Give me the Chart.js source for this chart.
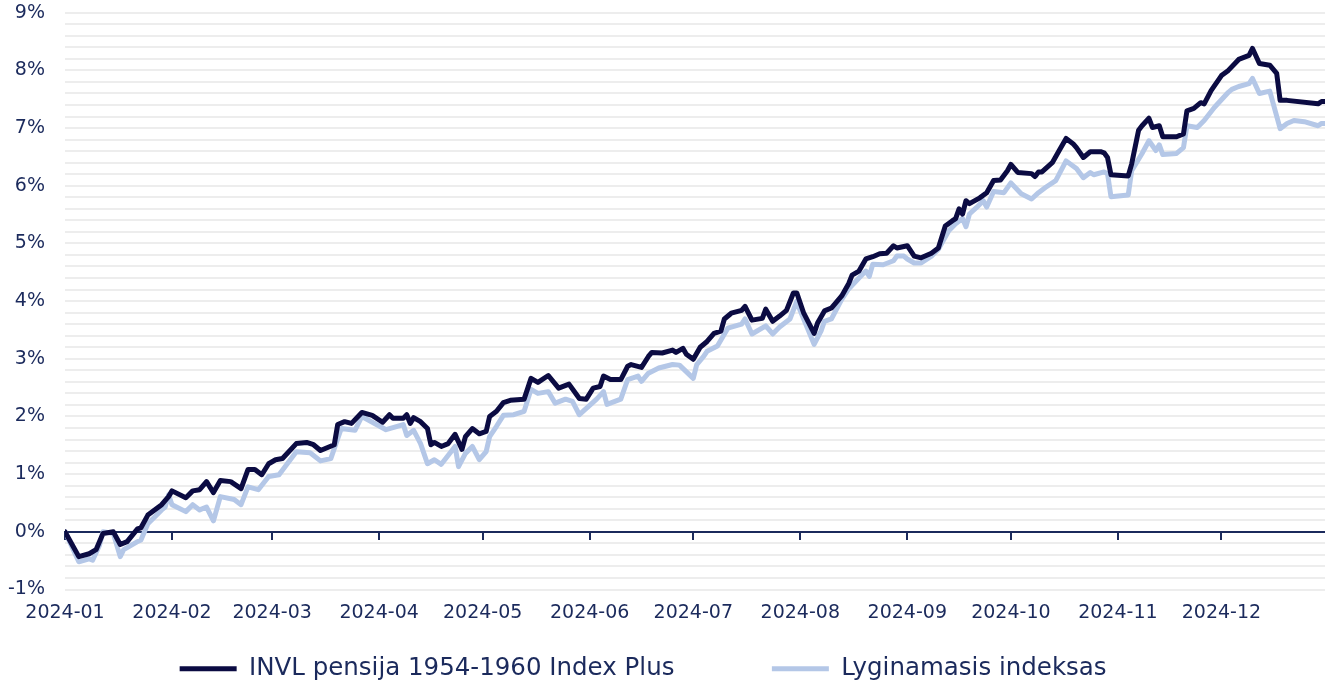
<!DOCTYPE html>
<html>
<head>
<meta charset="utf-8">
<script src="https://cdn.jsdelivr.net/npm/chart.js@4.4.1/dist/chart.umd.min.js"></script>
<style>
html,body{margin:0;padding:0;background:#fff;}
#wrap{width:1325px;height:685px;}
</style>
</head>
<body>
<div id="wrap"><canvas id="c" width="1325" height="685"></canvas></div>
<script>
// Month tick labels and their day offsets (days since 2024-01-01)
const monthLabels = ['2024-01','2024-02','2024-03','2024-04','2024-05','2024-06','2024-07','2024-08','2024-09','2024-10','2024-11','2024-12'];
const monthStartDays = [0,31,60,91,121,152,182,213,244,274,305,335];

const seriesNames = ['INVL pensija 1954-1960 Index Plus', 'Lyginamasis indeksas'];

// INVL pensija 1954-1960 Index Plus (cumulative return, %)
const fundDays = [
  0,4,7,9,11,14,16,18,21,22,24,28,30,
  31,35,37,39,41,43,45,48,51,53,55,57,59,
  61,63,67,70,72,74,78,79,81,83,86,89,
  92,94,95,98,99,100,101,103,105,106,107,109,111,113,115,116,118,120,
  122,123,125,127,129,133,135,137,140,143,146,149,151,
  153,155,156,158,161,163,164,167,169,170,173,176,177,179,180,
  182,184,186,188,190,191,193,196,197,199,202,203,205,207,209,211,212,
  214,217,218,220,222,225,227,228,230,232,234,236,238,240,241,
  244,246,248,251,253,255,257,258,259,260,261,262,265,267,269,271,273,
  274,276,280,281,282,283,286,288,290,292,293,295,297,300,301,302,303,
  308,309,311,312,314,315,317,318,322,324,325,327,329,330,332,
  335,337,340,343,344,346,349,351,352,354,363,364,365
];
const fundValues = [
  0.00,-0.43,-0.38,-0.31,-0.03,0.00,-0.22,-0.17,0.05,0.07,0.29,0.47,0.61,
  0.71,0.59,0.71,0.73,0.87,0.68,0.89,0.87,0.75,1.08,1.08,0.99,1.18,
  1.25,1.27,1.53,1.55,1.51,1.41,1.51,1.86,1.91,1.88,2.07,2.02,
  1.90,2.03,1.97,1.97,2.03,1.88,1.98,1.91,1.79,1.51,1.55,1.48,1.53,1.69,1.43,1.65,1.79,1.70,
  1.74,2.00,2.09,2.24,2.28,2.30,2.66,2.59,2.71,2.49,2.56,2.31,2.30,
  2.49,2.52,2.70,2.64,2.64,2.87,2.90,2.85,3.04,3.11,3.10,3.15,3.11,3.18,3.08,
  2.99,3.20,3.30,3.44,3.48,3.69,3.79,3.84,3.91,3.67,3.70,3.86,3.65,3.74,3.84,4.14,4.14,
  3.79,3.44,3.62,3.83,3.88,4.09,4.30,4.45,4.52,4.73,4.77,4.82,4.83,4.96,4.92,
  4.96,4.78,4.75,4.83,4.92,5.30,5.39,5.43,5.60,5.51,5.74,5.69,5.79,5.88,6.09,6.10,6.26,
  6.37,6.23,6.21,6.16,6.24,6.24,6.40,6.61,6.82,6.73,6.66,6.49,6.59,6.59,6.57,6.49,6.19,
  6.17,6.38,6.96,7.04,7.17,7.01,7.04,6.85,6.85,6.90,7.30,7.34,7.44,7.42,7.65,
  7.91,8.00,8.19,8.26,8.38,8.12,8.09,7.95,7.48,7.48,7.42,7.46,7.46
];

// Lyginamasis indeksas (benchmark, cumulative return, %)
const indexDays = [
  0,4,7,8,10,11,14,16,17,21,22,24,28,29,30,
  31,35,37,39,41,43,45,49,51,53,56,59,
  62,67,71,74,77,80,84,86,
  93,98,99,101,103,105,107,109,113,114,116,118,120,
  122,123,125,127,130,133,135,137,140,142,145,147,149,
  154,156,157,161,163,166,167,169,172,176,178,
  182,183,185,186,189,192,196,197,199,203,205,207,210,212,213,
  217,219,220,222,225,227,230,232,233,234,237,240,241,243,
  244,246,248,251,253,256,258,260,261,262,264,266,267,269,272,
  274,277,280,282,284,287,290,293,295,297,298,301,302,303,
  308,309,312,314,316,317,318,322,324,325,328,330,333,
  337,338,340,343,344,346,349,352,354,356,359,363,364,365
];
const indexValues = [
  0.00,-0.52,-0.47,-0.49,-0.23,0.00,-0.03,-0.43,-0.31,-0.17,-0.14,0.14,0.38,0.43,0.64,
  0.47,0.35,0.47,0.38,0.43,0.19,0.61,0.56,0.47,0.78,0.73,0.96,
  0.99,1.39,1.37,1.23,1.27,1.79,1.76,2.00,
  1.77,1.86,1.67,1.76,1.53,1.18,1.25,1.17,1.48,1.13,1.36,1.48,1.25,
  1.39,1.65,1.83,2.02,2.03,2.09,2.47,2.40,2.43,2.23,2.30,2.26,2.03,
  2.30,2.43,2.21,2.30,2.64,2.70,2.61,2.75,2.84,2.90,2.89,
  2.66,2.90,3.04,3.13,3.22,3.53,3.60,3.69,3.43,3.57,3.43,3.55,3.69,4.00,3.83,
  3.25,3.48,3.65,3.69,4.03,4.21,4.40,4.52,4.43,4.64,4.63,4.70,4.78,4.78,
  4.73,4.66,4.66,4.78,4.90,5.22,5.34,5.43,5.29,5.51,5.62,5.74,5.63,5.90,5.88,
  6.05,5.86,5.77,5.88,5.97,6.09,6.43,6.30,6.14,6.23,6.19,6.24,6.21,5.81,
  5.84,6.26,6.56,6.78,6.61,6.71,6.54,6.56,6.66,7.04,7.01,7.13,7.36,
  7.62,7.67,7.72,7.77,7.86,7.60,7.64,6.99,7.08,7.13,7.11,7.04,7.08,7.08
];

const NAVY = '#1b2a5c';
const FUND_COLOR = '#0b0b42';
const INDEX_COLOR = '#b4c7e7';

Chart.defaults.font.family = "'DejaVu Sans', Verdana, sans-serif";
Chart.defaults.color = NAVY;

const monthTicks = (scale) => { scale.ticks = monthStartDays.map(v => ({ value: v })); };
const toPoints = (days, vals) => days.map((d, i) => ({ x: d, y: vals[i] }));

// legend spacing (extra trailing space so items sit like the reference)
const legendPad = ['            ', '      '];

new Chart(document.getElementById('c').getContext('2d'), {
  type: 'line',
  data: {
    datasets: [
      { label: seriesNames[0], data: toPoints(fundDays, fundValues), borderColor: FUND_COLOR, backgroundColor: FUND_COLOR,
        borderWidth: 5, pointRadius: 0, tension: 0, borderJoinStyle: 'round', borderCapStyle: 'round' },
      { label: seriesNames[1], data: toPoints(indexDays, indexValues), borderColor: INDEX_COLOR, backgroundColor: INDEX_COLOR,
        borderWidth: 5, pointRadius: 0, tension: 0, borderJoinStyle: 'round', borderCapStyle: 'round' }
    ]
  },
  options: {
    responsive: false,
    animation: false,
    layout: { padding: { left: 8, right: 0, top: 0, bottom: -6 } },
    plugins: {
      tooltip: { enabled: false },
      legend: {
        position: 'bottom',
        labels: {
          boxWidth: 57, boxHeight: 5, padding: 4, color: NAVY,
          font: { size: 24.5 },
          generateLabels: (chart) => chart.data.datasets.map((ds, i) => ({
            text: ds.label + legendPad[i], fillStyle: ds.borderColor, strokeStyle: ds.borderColor,
            lineWidth: 0, hidden: false, datasetIndex: i, fontColor: NAVY
          }))
        }
      }
    },
    scales: {
      x: {
        type: 'linear', min: 0, max: 365, position: 'bottom',
        afterBuildTicks: monthTicks,
        afterFit: (s) => { s.height = 63; },
        grid: { display: false, drawTicks: false },
        border: { display: false },
        ticks: { autoSkip: false, maxRotation: 0, padding: 12, font: { size: 19 }, color: NAVY,
                 callback: (v, i) => monthLabels[i] }
      },
      x0: {
        type: 'linear', axis: 'x', min: 0, max: 365, position: { y: 0 },
        afterBuildTicks: monthTicks,
        ticks: { display: false },
        grid: { drawOnChartArea: false, drawTicks: true, tickLength: 7, color: NAVY, lineWidth: 2 },
        border: { display: true, color: NAVY, width: 2 }
      },
      y: {
        min: -1, max: 9,
        afterFit: (s) => { s.width = 57; s.paddingTop = 12.7; s.paddingBottom = 0; },
        ticks: { stepSize: 0.2, autoSkip: false, padding: 20, font: { size: 19 }, color: NAVY,
                 callback: v => Math.abs(v - Math.round(v)) < 1e-6 ? Math.round(v) + '%' : '' },
        grid: { drawTicks: false, color: '#ededed', lineWidth: 2 },
        border: { display: false }
      }
    }
  }
});
</script>
</body>
</html>
